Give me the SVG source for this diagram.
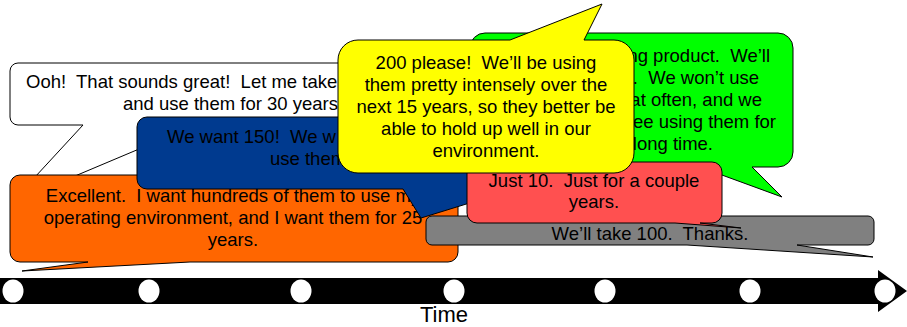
<svg xmlns="http://www.w3.org/2000/svg" width="907" height="327" viewBox="0 0 907 327" xml:space="preserve">
<style>
.b{stroke:#000;stroke-width:1;stroke-linejoin:round}
.t{font-family:"Liberation Sans",Arial,sans-serif;font-size:18.5px;fill:#000;white-space:pre}
.c{text-anchor:middle}
.e{text-anchor:end}
.time{font-family:"Liberation Sans",Arial,sans-serif;font-size:22px;fill:#000;text-anchor:middle}
</style>
<rect width="907" height="327" fill="#fff"/>
<g id="bubble-white">
<path class="b" fill="#fff" d="M18,63 H432 A8,8 0 0 1 440,71 V117 A8,8 0 0 1 432,125 H196 L11,203 L83,125 H18 A8,8 0 0 1 10,117 V71 A8,8 0 0 1 18,63 Z"/>
<text class="t" x="26" y="88">Ooh!  That sounds great!  Let me take</text>
<text class="t" x="123" y="110">and use them for 30 years</text>
</g>
<g id="bubble-green">
<path class="b" fill="#00ff00" d="M485,33 H778 A15,15 0 0 1 793,48 V152 A15,15 0 0 1 778,167 H752 L782,197 L700,167 H485 A15,15 0 0 1 470,152 V48 A15,15 0 0 1 485,33 Z"/>
<text class="t e" x="770" y="62">ng product.  We’ll</text>
<text class="t e" x="759" y="84">.  We won’t use</text>
<text class="t e" x="762" y="106">at often, and we</text>
<text class="t e" x="776" y="128">ee using them for</text>
<text class="t e" x="713" y="150">long time.</text>
</g>
<g id="bubble-orange">
<path class="b" fill="#ff6600" d="M20,175 H448 A10,10 0 0 1 458,185 V252 A10,10 0 0 1 448,262 H190 L22,271 L88,262 H20 A10,10 0 0 1 10,252 V185 A10,10 0 0 1 20,175 Z"/>
<text class="t c" x="233" y="201.5">Excellent.  I want hundreds of them to use my</text>
<text class="t c" x="233" y="223.5">operating environment, and I want them for 25</text>
<text class="t c" x="233" y="246">years.</text>
</g>
<g id="bubble-gray">
<path class="b" fill="#808080" d="M432,216 H868 A6,6 0 0 1 874,222 V239 A6,6 0 0 1 868,245 H797 L873,257 L687,245 H432 A6,6 0 0 1 426,239 V222 A6,6 0 0 1 432,216 Z"/>
<text class="t c" x="650" y="239.5">We’ll take 100.  Thanks.</text>
</g>
<g id="bubble-blue">
<path class="b" fill="#003a8f" d="M147,117 H550 A10,10 0 0 1 560,127 V179 A10,10 0 0 1 550,189 H515 L421,218 L403,189 H147 A10,10 0 0 1 137,179 V127 A10,10 0 0 1 147,117 Z"/>
<text class="t" x="167" y="143">We want 150!  We w</text>
<text class="t" x="270" y="165">use them</text>
</g>
<g id="bubble-red">
<path class="b" fill="#ff5050" d="M477,162 H712 A10,10 0 0 1 722,172 V213 A10,10 0 0 1 712,223 H700 L741,228 L675,223 H477 A10,10 0 0 1 467,213 V172 A10,10 0 0 1 477,162 Z"/>
<text class="t c" x="594" y="186.5">Just 10.  Just for a couple</text>
<text class="t c" x="594" y="208">years.</text>
</g>
<g id="bubble-yellow">
<path class="b" fill="#ffff00" d="M358,40 H510 L602,4 L584,40 H614 A20,20 0 0 1 634,60 V153 A20,20 0 0 1 614,173 H358 A20,20 0 0 1 338,153 V60 A20,20 0 0 1 358,40 Z"/>
<text class="t c" x="486" y="68.5">200 please!  We’ll be using</text>
<text class="t c" x="486" y="91">them pretty intensely over the</text>
<text class="t c" x="486" y="113">next 15 years, so they better be</text>
<text class="t c" x="486" y="135">able to hold up well in our</text>
<text class="t c" x="486" y="157">environment.</text>
</g>
<g id="timeline">
<path fill="#000" d="M0,278 H878 V270 L907,291 L878,312 V304 H0 Z"/>
<g fill="#fff">
<ellipse cx="13" cy="291" rx="10.5" ry="11.5"/>
<ellipse cx="149" cy="291" rx="10.5" ry="11.5"/>
<ellipse cx="301" cy="291" rx="10.5" ry="11.5"/>
<ellipse cx="454" cy="291" rx="10.5" ry="11.5"/>
<ellipse cx="605" cy="291" rx="10.5" ry="11.5"/>
<ellipse cx="750" cy="291" rx="10.5" ry="11.5"/>
<ellipse cx="885" cy="291" rx="10.5" ry="11.5"/>
</g>
<text class="time" x="444" y="322">Time</text>
</g>
</svg>
